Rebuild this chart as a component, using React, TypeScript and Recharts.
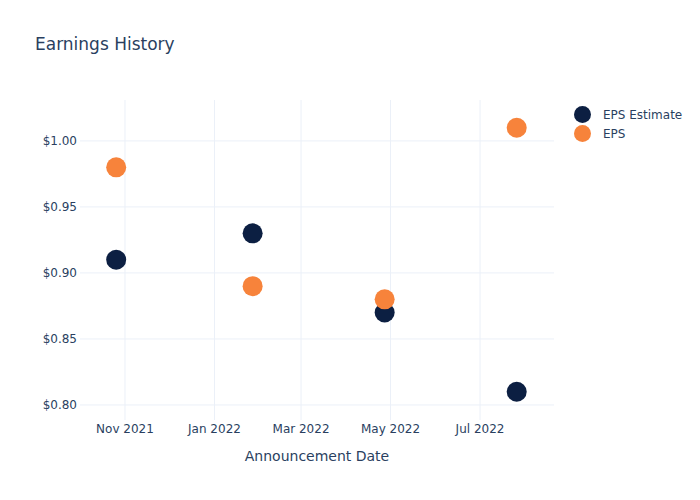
import { CartesianGrid, Scatter, ScatterChart, XAxis, YAxis } from "recharts";

const FONT = "'DejaVu Sans', sans-serif";
const TEXT = "#2a3f5f";
const GRID = "#ebf0f8";

const COLORS = {
  estimate: "#0c1f42",
  eps: "#f7833b",
};

const announceDates = ["2021-10-26", "2022-01-27", "2022-04-27", "2022-07-26"];
const epsEstimate = [0.91, 0.93, 0.87, 0.81];
const epsActual = [0.98, 0.89, 0.88, 1.01];

const xTickDates = ["2021-11-01", "2022-01-01", "2022-03-01", "2022-05-01", "2022-07-01"];
const yTicks = [0.8, 0.85, 0.9, 0.95, 1.0];

const toTime = (d: string) => new Date(d + "T00:00:00Z").getTime();
const MONTHS = ["Jan", "Feb", "Mar", "Apr", "May", "Jun", "Jul", "Aug", "Sep", "Oct", "Nov", "Dec"];
const fmtMonth = (t: number) => {
  const d = new Date(t);
  return `${MONTHS[d.getUTCMonth()]} ${d.getUTCFullYear()}`;
};

const estimateData = announceDates.map((d, i) => ({ date: toTime(d), value: epsEstimate[i] }));
const epsData = announceDates.map((d, i) => ({ date: toTime(d), value: epsActual[i] }));
const xTicks = xTickDates.map(toTime);

const dot = (color: string) => (props: any) => (
  <circle cx={props.cx} cy={props.cy} r={10} fill={color} />
);

export default function App() {
  return (
    <div style={{ position: "absolute", left: 0, top: 0, width: 700, height: 500, background: "#fff", fontFamily: FONT }}>
      <div style={{ position: "absolute", left: 35, top: 34, fontSize: 17, color: TEXT }}>
        Earnings History
      </div>
      <div style={{ position: "absolute", left: 574, top: 105, fontSize: 12, color: TEXT }}>
        {[
          ["EPS Estimate", COLORS.estimate],
          ["EPS", COLORS.eps],
        ].map(([name, color]) => (
          <div key={name} style={{ display: "flex", alignItems: "center", height: 19 }}>
            <span style={{ width: 17, height: 17, borderRadius: "50%", background: color, marginRight: 12 }} />
            {name}
          </div>
        ))}
      </div>
      <ScatterChart width={700} height={500} margin={{ top: 100, right: 146, bottom: 50, left: 20 }}>
        <CartesianGrid stroke={GRID} strokeWidth={1} horizontalValues={yTicks} verticalValues={xTicks} />
        <XAxis
          type="number"
          dataKey="date"
          domain={[toTime("2021-10-01") + 8 * 3600e3, toTime("2022-08-20") + 10 * 3600e3]}
          ticks={xTicks}
          tickFormatter={fmtMonth}
          axisLine={false}
          tickLine={false}
          tickSize={0}
          tickMargin={4}
          height={30}
          allowDataOverflow
          tick={{ fontSize: 12, fill: TEXT, fontFamily: FONT }}
          label={{ value: "Announcement Date", position: "bottom", offset: 1, fontSize: 14, fill: TEXT, fontFamily: FONT }}
        />
        <YAxis
          type="number"
          dataKey="value"
          domain={[0.7886, 1.031]}
          ticks={yTicks}
          tickFormatter={(v: number) => `$${v.toFixed(2)}`}
          axisLine={false}
          tickLine={false}
          tickSize={0}
          tickMargin={3}
          width={60}
          allowDataOverflow
          tick={{ fontSize: 12, fill: TEXT, fontFamily: FONT }}
        />
        <Scatter name="EPS Estimate" data={estimateData} shape={dot(COLORS.estimate)} isAnimationActive={false} />
        <Scatter name="EPS" data={epsData} shape={dot(COLORS.eps)} isAnimationActive={false} />
      </ScatterChart>
    </div>
  );
}
